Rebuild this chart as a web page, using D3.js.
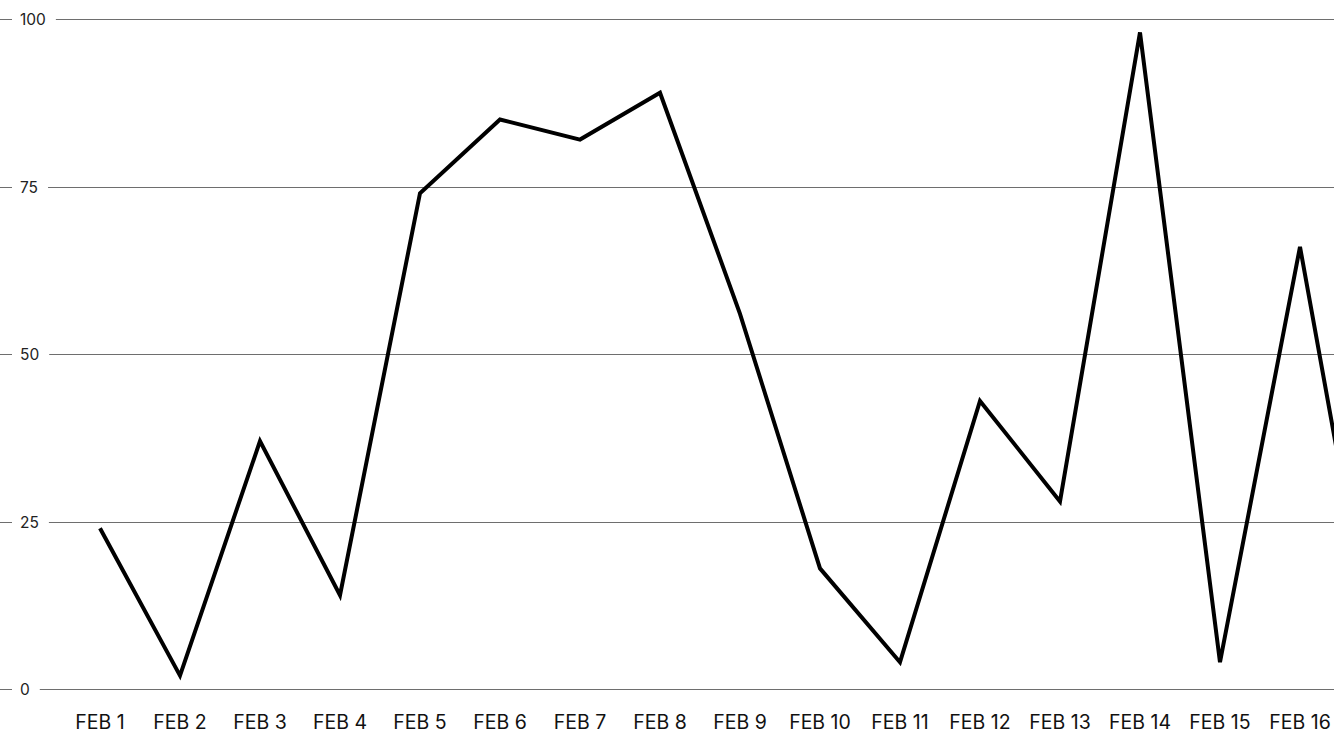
<!DOCTYPE html>
<html>
<head>
<meta charset="utf-8">
<script src="https://cdn.jsdelivr.net/npm/d3@7"></script>
<style>
  html, body { margin: 0; padding: 0; background: #fff; overflow: hidden; }
  svg { display: block; font-family: Inter, "Noto Sans", sans-serif; }
</style>
</head>
<body>
<svg id="chart" width="1334" height="750"></svg>
<script>
const categories = ["FEB 1","FEB 2","FEB 3","FEB 4","FEB 5","FEB 6","FEB 7","FEB 8","FEB 9","FEB 10","FEB 11","FEB 12","FEB 13","FEB 14","FEB 15","FEB 16","FEB 17"];
const values = [24, 2, 37, 14, 74, 85, 82, 89, 56, 18, 4, 43, 28, 98, 4, 66, 0];
const yTicks = [0, 25, 50, 75, 100];

const W = 1334, H = 750;
const svg = d3.select("#chart");

const x = d3.scalePoint().domain(categories).range([100, 100 + 80 * (categories.length - 1)]);
const y = d3.scaleLinear().domain([0, 100]).range([689, 19]);

// y grid with labels
const grid = svg.append("g");
yTicks.forEach(t => {
  const yy = Math.round(y(t)) + 0.5;
  const g = grid.append("g");
  const txt = g.append("text")
    .attr("x", 20).attr("y", yy)
    .attr("dy", "0.35em")
    .attr("font-size", 15.5)
    .attr("fill", "#222")
    .text(t);
  const w = txt.node().getComputedTextLength();
  g.append("line").attr("x1", 0).attr("x2", 12).attr("y1", yy).attr("y2", yy)
    .attr("stroke", "#6e6e6e").attr("stroke-width", 1);
  g.append("line").attr("x1", 20 + w + 10).attr("x2", W).attr("y1", yy).attr("y2", yy)
    .attr("stroke", "#6e6e6e").attr("stroke-width", 1);
});

// x labels (only those inside the visible area, like the reference)
svg.append("g").selectAll("text").data(categories.filter(d => x(d) < W)).join("text")
  .attr("x", d => x(d)).attr("y", 729)
  .attr("text-anchor", "middle")
  .attr("font-size", 19.5)
  .attr("fill", "#111")
  .text(d => d);

// line
const line = d3.line().x((d, i) => x(categories[i])).y(d => y(d));
svg.append("path").datum(values)
  .attr("d", line)
  .attr("fill", "none")
  .attr("stroke", "#000")
  .attr("stroke-width", 4);
</script>
</body>
</html>
